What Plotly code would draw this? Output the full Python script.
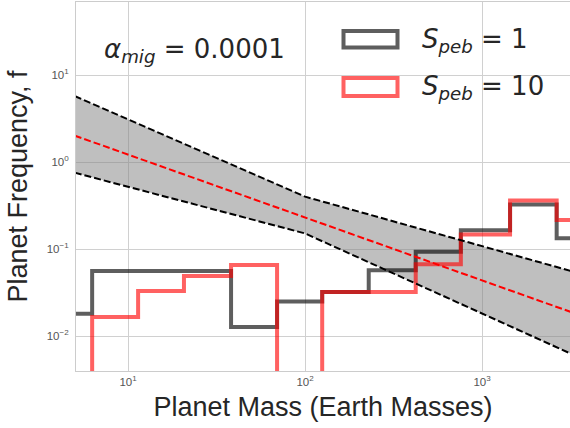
import plotly.graph_objects as go

# ---------------- data ----------------
mass_edges = [3.43, 6.27, 11.4, 20.7, 38.2, 69.5, 125, 229, 422, 759, 1440, 2640, 4830]
freq_speb1 = [0.018, 0.056, 0.056, 0.056, 0.0127, 0.025, 0.032, 0.057, 0.093, 0.164, 0.325, 0.133]
freq_speb10 = [0.0, 0.0165, 0.033, 0.049, 0.0655, 0.0, 0.032, 0.032, 0.067, 0.147, 0.36, 0.215]

fit_mass = [5.0, 100.0, 3200.0]
fit_mid = [2.01, 0.231, 0.0188]
fit_upper = [5.72, 0.40, 0.0557]
fit_lower = [0.753, 0.151, 0.00622]

x_tick_vals = [10, 100, 1000]
x_tick_text = ["10<sup>1</sup>", "10<sup>2</sup>", "10<sup>3</sup>"]
y_tick_vals = [0.01, 0.1, 1, 10]
y_tick_text = ["10<sup>\u22122</sup>", "10<sup>\u22121</sup>", "10<sup>0</sup>", "10<sup>1</sup>"]

legend_labels = ["<i>S</i><sub><i>peb</i></sub> = 1", "<i>S</i><sub><i>peb</i></sub> = 10"]
annot_text = "<i>\u03b1</i><sub><i>mig</i></sub> = 0.0001"

# ---------------- styles ----------------
W, H = 570, 428
ML, MT, MB, MR = 76, 2, 57, 0
GRAY = "rgba(0,0,0,0.63)"
RED = "rgba(255,0,0,0.62)"
FLOOR = 1e-6


def step_xy(edges, vals):
    v = [max(a, FLOOR) for a in vals]
    xs = [edges[0]] + list(edges)
    ys = [FLOOR] + v + [v[-1]]
    xs = xs + [edges[-1]]
    ys = ys + [FLOOR]
    return xs, ys


def px(xp, yp):
    pw = W - ML - MR
    ph = H - MT - MB
    return (xp - ML) / pw, (H - MB - yp) / ph


fig = go.Figure()

# band fill
fig.add_trace(go.Scatter(x=fit_mass, y=fit_lower, mode="lines",
                         line=dict(color="rgba(0,0,0,0)", width=0),
                         showlegend=False, hoverinfo="skip"))
fig.add_trace(go.Scatter(x=fit_mass, y=fit_upper, mode="lines", fill="tonexty",
                         fillcolor="rgba(128,128,128,0.5)",
                         line=dict(color="rgba(0,0,0,0)", width=0),
                         showlegend=False, hoverinfo="skip"))

# histograms
xs, ys = step_xy(mass_edges, freq_speb1)
fig.add_trace(go.Scatter(x=xs, y=ys, mode="lines", line_shape="hv",
                         line=dict(color=GRAY, width=4), name="S_peb = 1",
                         showlegend=False))
xs, ys = step_xy(mass_edges, freq_speb10)
fig.add_trace(go.Scatter(x=xs, y=ys, mode="lines", line_shape="hv",
                         line=dict(color=RED, width=4), name="S_peb = 10",
                         showlegend=False))

# fit lines
for yv, col in [(fit_upper, "black"), (fit_lower, "black"), (fit_mid, "red")]:
    fig.add_trace(go.Scatter(x=fit_mass, y=yv, mode="lines",
                             line=dict(color=col, width=2, dash="7px,3px"),
                             showlegend=False, hoverinfo="skip"))

# legend built by hand (outlined rectangles)
shapes = []
for (y0p, y1p), col in [((31, 47.5), GRAY), ((78, 96), RED)]:
    x0, y0 = px(343.5, y1p)
    x1, y1 = px(397.5, y0p)
    shapes.append(dict(type="rect", xref="paper", yref="paper", x0=x0, x1=x1,
                       y0=y0, y1=y1, line=dict(color=col, width=4),
                       fillcolor="rgba(0,0,0,0)"))

annotations = []
for lab, yc in zip(legend_labels, [40, 87]):
    ax, ay = px(420, yc)
    annotations.append(dict(text=lab, xref="paper", yref="paper", x=ax, y=ay,
                            xanchor="left", yanchor="middle", showarrow=False,
                            font=dict(family="DejaVu Sans", size=26, color="#262626")))
ax, ay = px(194.5, 50)
annotations.append(dict(text=annot_text, xref="paper", yref="paper", x=ax, y=ay,
                        xanchor="center", yanchor="middle", showarrow=False,
                        font=dict(family="DejaVu Sans", size=26, color="#262626")))

axis_common = dict(type="log", showgrid=True, gridcolor="#d0d0d0", gridwidth=1,
                   showline=True, linecolor="#cccccc", linewidth=1, mirror=True,
                   zeroline=False, ticks="", automargin=False,
                   tickfont=dict(family="Liberation Sans", size=11.5, color="#555555"),
                   title_font=dict(family="Liberation Sans", size=27, color="#262626"))

fig.update_layout(
    width=W, height=H,
    margin=dict(l=ML, r=MR, t=MT, b=MB),
    paper_bgcolor="white", plot_bgcolor="white",
    xaxis=dict(axis_common, range=[0.706, 3.497], tickvals=x_tick_vals,
               ticktext=x_tick_text, title=dict(text="Planet Mass (Earth Masses)", standoff=10)),
    yaxis=dict(axis_common, range=[-2.402, 1.839], tickvals=y_tick_vals,
               ticktext=y_tick_text, ticklabelstandoff=4,
               title=dict(text="Planet Frequency, f", standoff=11)),
    shapes=shapes, annotations=annotations, showlegend=False,
)

fig.write_html("out.html")
